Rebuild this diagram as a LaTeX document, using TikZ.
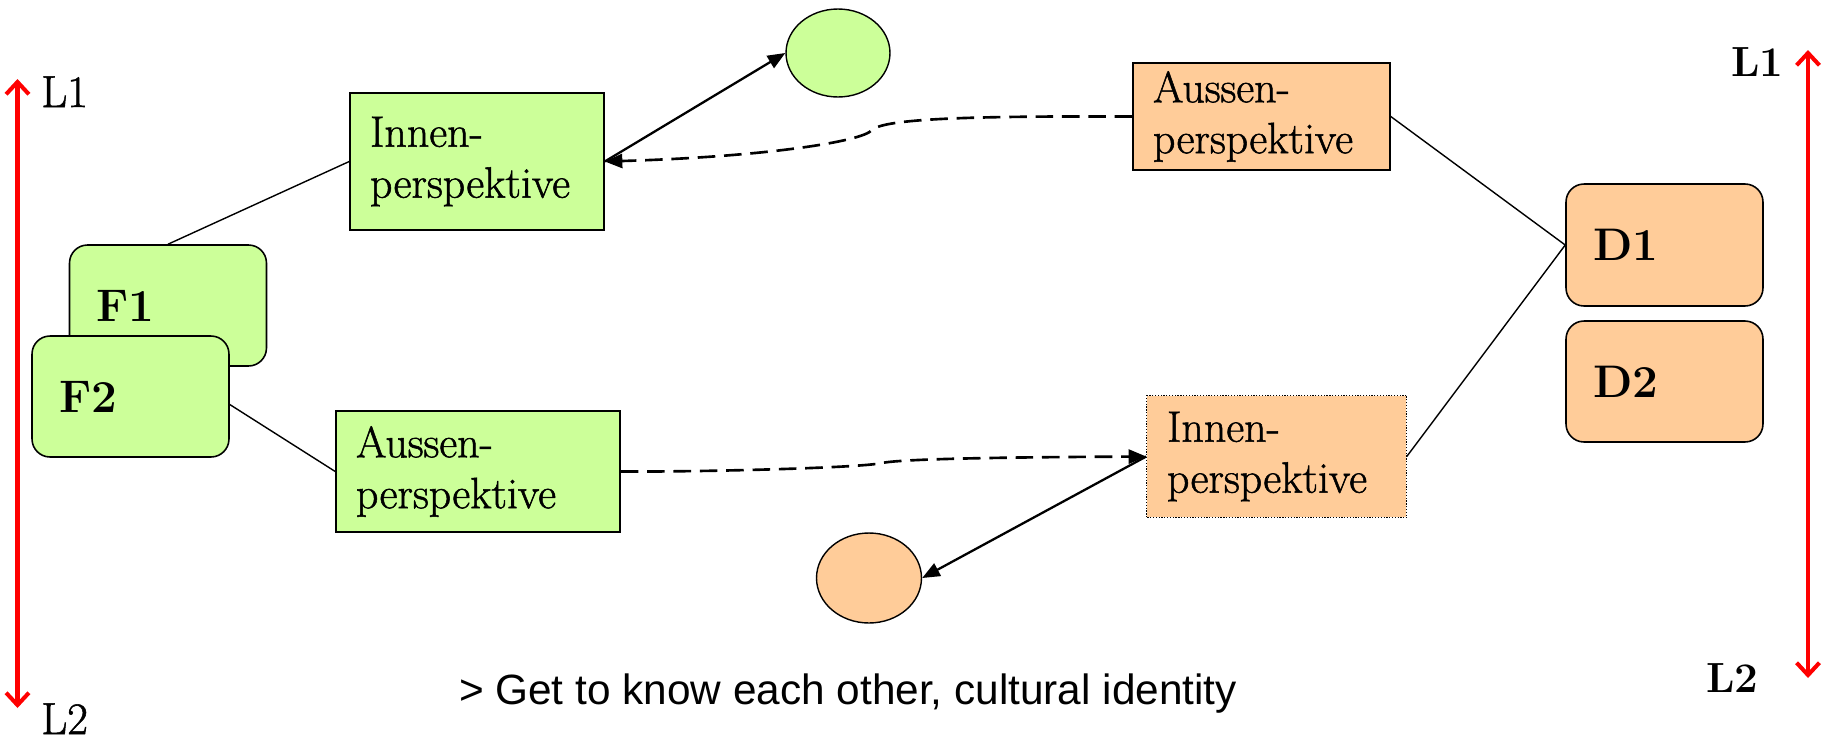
\documentclass[tikz,border=0pt]{standalone}
\usepackage{fontspec}
\newfontfamily\arialfont{Liberation Sans}
\newfontfamily\darkfont[FakeBold=1.2]{Latin Modern Roman}
\usetikzlibrary{arrows.meta,shapes.geometric}
\definecolor{lgreen}{HTML}{CCFF99}
\definecolor{lorange}{HTML}{FFCC99}
\begin{document}
\begin{tikzpicture}[x=0.02cm,y=-0.02cm,
  boxtxt/.style={rectangle,draw=black,line width=0.9pt,align=left,inner xsep=0.4cm,inner ysep=0pt,
    font=\darkfont\fontsize{25}{29}\selectfont},
  rbox/.style={rectangle,rounded corners=0.36cm,draw=black,line width=0.9pt,align=left,inner xsep=0.54cm,inner ysep=0pt,
    text width=2.86cm,minimum height=2.42cm,font=\bfseries\fontsize{26}{30}\selectfont},
  oval/.style={ellipse,draw=black,line width=0.8pt,inner sep=0pt},
  thin/.style={line width=0.8pt},
  solidarr/.style={line width=1.3pt,-{Triangle[length=10pt,width=8pt]}},
  dasharr/.style={line width=1.5pt,dash pattern=on 10pt off 5pt,-{Triangle[length=10pt,width=8pt]}},
  redarr/.style={red,line width=2.3pt,{Straight Barb[length=7pt,width=13pt]}-{Straight Barb[length=7pt,width=13pt]}},
  lbl/.style={inner sep=0pt,font=\darkfont\fontsize{25.6}{28}\selectfont},
  lblb/.style={inner sep=0pt,font=\bfseries\fontsize{24}{28}\selectfont}
]
\useasboundingbox (0,0) rectangle (1827,741);

% red arrows
\coordinate (la1) at (17.5,79);
\coordinate (la2) at (17.5,708);
\coordinate (ra1) at (1808,50);
\coordinate (ra2) at (1808,678);
\draw[redarr] (la1) -- (la2);
\draw[redarr] (ra1) -- (ra2);
\node[lbl,anchor=base west] (l1l) at (41,107) {L1};
\node[lbl,anchor=base west] (l2l) at (41,734) {L2};
\node[lblb,anchor=base east] (l1r) at (1784,76) {L1};
\node[lblb,anchor=base west] (l2r) at (1706,692) {L2};

% boxes
\node[boxtxt,fill=lgreen,text width=4.28cm,minimum height=2.74cm] (innenL) at (477,161.5) {Innen-\\perspektive};
\node[boxtxt,fill=lgreen,text width=4.88cm,minimum height=2.42cm] (aussenL) at (478,471.5) {Aussen-\\perspektive};
\node[boxtxt,fill=lorange,text width=4.34cm,minimum height=2.14cm] (aussenR) at (1261.5,116.5) {Aussen-\\perspektive};
\node[boxtxt,fill=lorange,draw=none,text width=4.38cm,minimum height=2.42cm] (innenR) at (1276.5,456.5) {Innen-\\perspektive};
\draw[line width=0.6pt,dash pattern=on 0.7pt off 0.9pt] (innenR.north west) rectangle (innenR.south east);

\node[rbox,fill=lgreen] (F1) at (168,305.5) {F1};
\node[rbox,fill=lgreen] (F2) at (130.5,396.5) {F2};
\node[rbox,fill=lorange,minimum height=2.44cm] (D1) at (1664.5,245) {D1};
\node[rbox,fill=lorange] (D2) at (1664.5,381.5) {D2};

\node[oval,fill=lgreen,minimum width=2.08cm,minimum height=1.76cm] (ovG) at (838,53) {};
\node[oval,fill=lorange,minimum width=2.1cm,minimum height=1.8cm] (ovO) at (869,578) {};

% connectors
\draw[thin] (F1.north) -- (innenL.west);
\draw[thin] ([yshift=-0.16cm]F2.east) -- (aussenL.west);
\draw[thin] (aussenR.east) -- (D1.west);
\draw[thin] (innenR.east) -- (D1.west);

\draw[solidarr] (innenL.east) -- (ovG.west);
\draw[solidarr] (innenR.west) -- (ovO.east);

\draw[dasharr] (aussenR.west) .. controls (980,116) and (885,118) .. (872,130)
  .. controls (862,142) and (760,157) .. (innenL.east);
\draw[dasharr] (aussenL.east) .. controls (700,472) and (860,468) .. (882,463)
  .. controls (905,458) and (1050,457) .. (innenR.west);

\node[inner sep=0pt,anchor=base,font=\arialfont\fontsize{24.1}{28}\selectfont] (note) at (848,704) {> Get to know each other, cultural identity};
\end{tikzpicture}
\end{document}
